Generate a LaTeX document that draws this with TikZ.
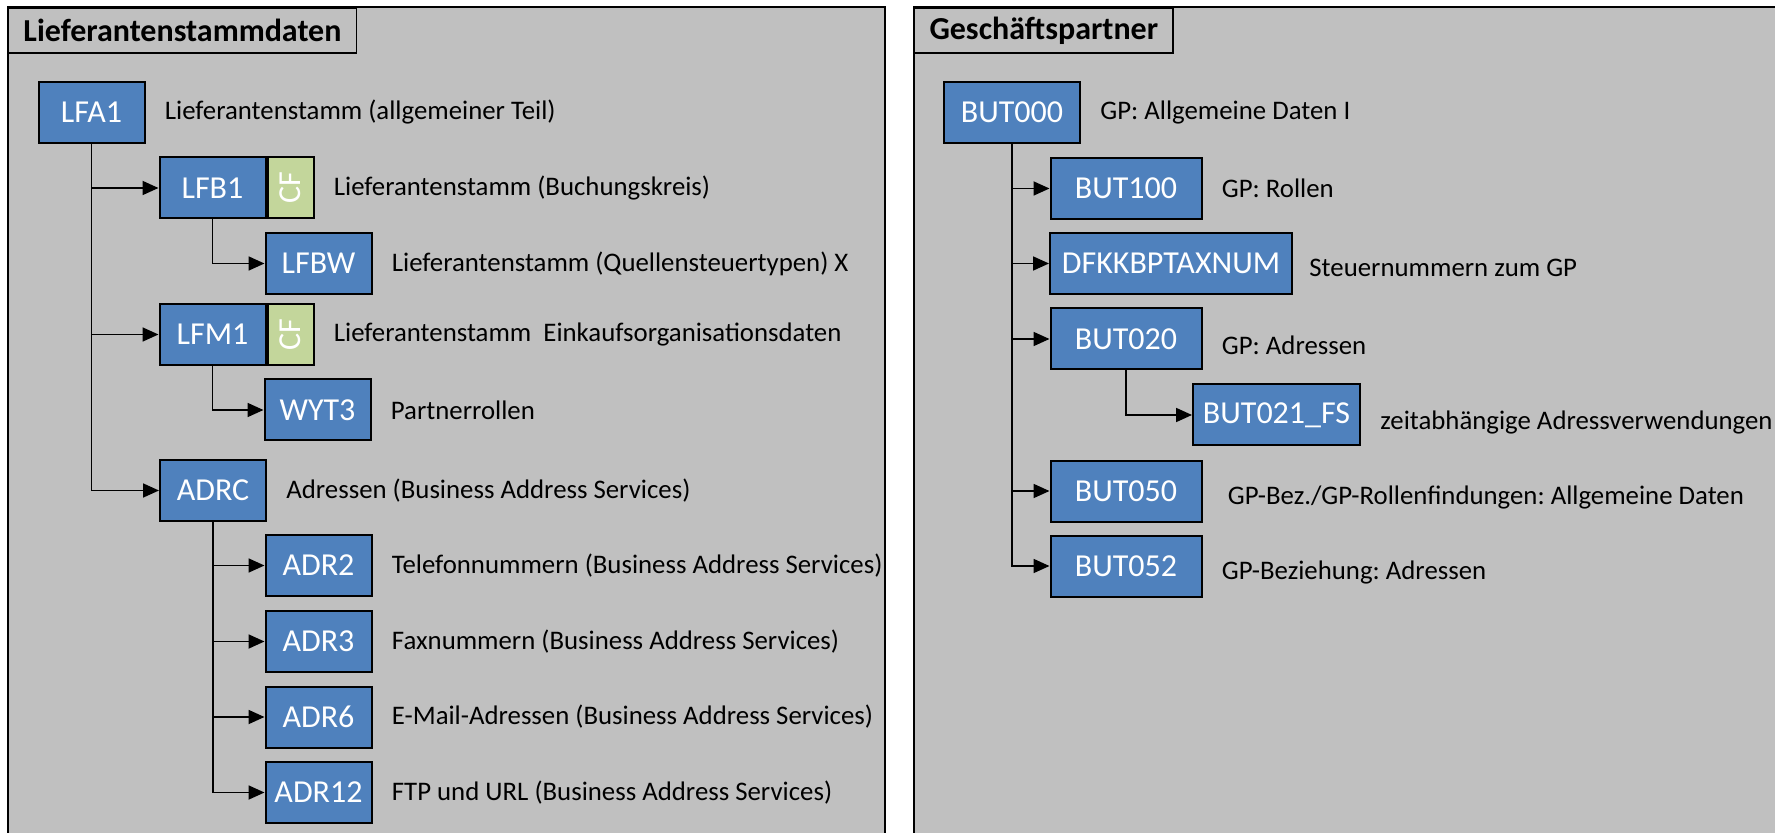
\documentclass[tikz,border=0pt]{standalone}
\usepackage{fontspec}
\setmainfont{Carlito}
\usepackage{graphicx}
\usepackage{xcolor}
\usepackage{tikz}
\usetikzlibrary{arrows.meta,positioning}
\definecolor{panelgray}{HTML}{C0C0C0}
\definecolor{tblblue}{HTML}{4F81BD}
\definecolor{cfgreen}{HTML}{C3D69B}
\frenchspacing

\begin{document}
\begin{tikzpicture}[
    x=0.5pt, y=-0.5pt,
    node distance=9.5pt,
    paneltitle/.style={rectangle, draw, line width=0.8pt, anchor=north west, inner xsep=7.5pt, minimum height=22.5pt, font=\fontsize{16}{19}\selectfont\bfseries},
    tbl/.style={rectangle, draw=black, fill=tblblue, line width=1pt, text=white, minimum height=30.5pt, minimum width=53pt, inner sep=2pt, font=\fontsize{16}{19}\selectfont},
    cf/.style={rectangle, draw=black, fill=cfgreen, line width=1pt, text=white, minimum height=30.5pt, minimum width=23pt, anchor=west, inner sep=0pt, font=\fontsize{16}{19}\selectfont},
    desc/.style={anchor=west, inner sep=0pt, font=\fontsize{13.4}{16}\selectfont},
    arrow/.style={-{Triangle[length=8pt, width=7pt]}, line width=0.9pt}
]
    \useasboundingbox (0,0) rectangle (1775,833);

    % panels
    \fill[panelgray] (7.7,7) rectangle (884.6,850);
    \draw[line width=1pt] (7.7,850) -- (7.7,7) -- (884.6,7) -- (884.6,850);
    \fill[panelgray] (913.7,7) rectangle (1790,850);
    \draw[line width=1pt] (913.7,850) -- (913.7,7) -- (1790,7);
    \node[paneltitle] (t1) at (7.7,7) {Lieferantenstammdaten};
    \node[paneltitle] (t2) at (913.7,7) {Geschäftspartner};

    % Lieferantenstammdaten
    \node[tbl] (lfa1) at (91.5,112.5) {LFA1};
    \node[tbl] (lfb1) at (212.5,188) {LFB1};
    \node[cf] (cf1) at (lfb1.east) {\rotatebox{90}{CF}};
    \node[tbl] (lfbw) at (318.5,263.5) {LFBW};
    \node[tbl] (lfm1) at (212.5,334.5) {LFM1};
    \node[cf] (cf2) at (lfm1.east) {\rotatebox{90}{CF}};
    \node[tbl] (wyt3) at (317.5,410) {WYT3};
    \node[tbl] (adrc) at (213,490.5) {ADRC};
    \node[tbl] (adr2) at (318.5,565.5) {ADR2};
    \node[tbl] (adr3) at (318.5,641.5) {ADR3};
    \node[tbl] (adr6) at (318.5,717) {ADR6};
    \node[tbl] (adr12) at (318.5,792.5) {ADR12};

    \node[desc, right=of lfa1] (d_lfa1) {Lieferantenstamm (allgemeiner Teil)};
    \node[desc, right=of cf1] (d_lfb1) {Lieferantenstamm (Buchungskreis)};
    \node[desc, right=of lfbw] (d_lfbw) {Lieferantenstamm (Quellensteuertypen) X};
    \node[desc, right=of cf2] (d_lfm1) {Lieferantenstamm\ \ Einkaufsorganisationsdaten};
    \node[desc, right=of wyt3] (d_wyt3) {Partnerrollen};
    \node[desc, right=of adrc] (d_adrc) {Adressen (Business Address Services)};
    \node[desc, right=of adr2] (d_adr2) {Telefonnummern (Business Address Services)};
    \node[desc, right=of adr3] (d_adr3) {Faxnummern (Business Address Services)};
    \node[desc, right=of adr6] (d_adr6) {E-Mail-Adressen (Business Address Services)};
    \node[desc, right=of adr12] (d_adr12) {FTP und URL (Business Address Services)};

    \draw[arrow] (lfa1.south) |- (lfb1.west);
    \draw[arrow] (lfa1.south) |- (lfm1.west);
    \draw[arrow] (lfa1.south) |- (adrc.west);
    \draw[arrow] (lfb1.south) |- (lfbw.west);
    \draw[arrow] (lfm1.south) |- (wyt3.west);
    \foreach \n in {adr2,adr3,adr6,adr12}
        \draw[arrow] (adrc.south) |- (\n.west);

    % Geschaeftspartner
    \node[tbl, minimum width=68pt] (but000) at (1012,112.5) {BUT000};
    \node[tbl, minimum width=75.5pt] (but100) at (1126,188.5) {BUT100};
    \node[tbl, minimum width=121pt] (dfkk) at (1171,263.5) {DFKKBPTAXNUM};
    \node[tbl, minimum width=75.5pt] (but020) at (1126,339) {BUT020};
    \node[tbl, minimum width=83.5pt] (but021) at (1276.5,415) {BUT021\_FS};
    \node[tbl, minimum width=75.5pt] (but050) at (1126,491) {BUT050};
    \node[tbl, minimum width=75.5pt] (but052) at (1126,566) {BUT052};

    \node[desc, right=of but000] (d_but000) {GP: Allgemeine Daten I};
    \node[desc, right=of but100] (d_but100) {GP: Rollen};
    \node[desc, right=8pt of dfkk, yshift=-2pt] (d_dfkk) {Steuernummern zum GP};
    \node[desc, right=of but020, yshift=-3pt] (d_but020) {GP: Adressen};
    \node[desc, right=of but021, yshift=-3.5pt] (d_but021) {zeitabhängige Adressverwendungen};
    \node[desc, right=12.5pt of but050, yshift=-3pt] (d_but050) {GP-Bez./GP-Rollenfindungen: Allgemeine Daten};
    \node[desc, right=of but052, yshift=-3pt] (d_but052) {GP-Beziehung: Adressen};

    \foreach \n in {but100,dfkk,but020,but050,but052}
        \draw[arrow] (but000.south) |- (\n.west);
    \draw[arrow] (but020.south) |- (but021.west);
\end{tikzpicture}
\end{document}
